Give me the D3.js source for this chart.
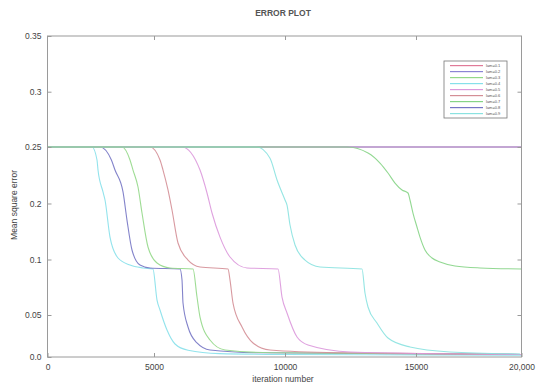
<!DOCTYPE html>
<html><head><meta charset="utf-8">
<script src="https://cdn.jsdelivr.net/npm/d3@7"></script>
<style>
html,body{margin:0;padding:0;background:#fff;}
text{font-family:"Liberation Sans",Arial,sans-serif;}
</style></head>
<body><svg id="c" width="536" height="385"></svg>
<script>
// ---- data ----
const xTicks = [0, 5000, 10000, 15000, 20000];
const xTickLabels = ["0", "5000", "10000", "15000", "20,000"];
const yTicks = [0, 0.05, 0.1, 0.2, 0.25, 0.3, 0.35];
const yTickLabels = ["0.0", "0.05", "0.1", "0.2", "0.25", "0.3", "0.35"];
const seriesNames = ["lam=0.1","lam=0.2","lam=0.3","lam=0.4","lam=0.5","lam=0.6","lam=0.7","lam=0.8","lam=0.9"];
const seriesColors = ["#e07a98","#8c84d4","#94d888","#86e0ea","#dc98dc","#d48e96","#86d486","#7676c4","#8ae2e0"];

const s1 = [[0,0.25],[20000,0.25]];
const s2 = [[0,0.25],[20000,0.25]];
const s3 = [[0,0.25],[3498,0.25],[3873,0.2385],[4014,0.2296],[4249,0.2146],[4437,0.183],[4718,0.1223],[5115,0.0969],[5611,0.0924],[6489,0.0915],[6641,0.0662],[6756,0.0476],[7137,0.0202],[7710,0.0083],[9500,0.005],[20000,0.003]];
const s4 = [[0,0.25],[2089,0.25],[2324,0.2385],[2371,0.2296],[2606,0.2102],[2700,0.2031],[2934,0.140],[3310,0.1027],[3873,0.095],[4484,0.0924],[4950,0.0915],[5115,0.0635],[5229,0.0545],[5496,0.0321],[5802,0.0155],[6300,0.008],[7500,0.004],[10000,0.003],[20000,0.002]];
const s5 = [[0,0.25],[6069,0.25],[6756,0.2296],[7023,0.2093],[7214,0.183],[7519,0.140],[7901,0.1045],[8550,0.0924],[9733,0.0915],[9885,0.0662],[10076,0.0518],[10458,0.0238],[10878,0.0143],[12500,0.006],[20000,0.003]];
const s6 = [[0,0.25],[4812,0.25],[5229,0.2385],[5344,0.2296],[5534,0.212],[5687,0.1884],[5916,0.1295],[6298,0.0995],[6756,0.0933],[7824,0.0915],[7901,0.0815],[8015,0.0608],[8359,0.0357],[8779,0.0167],[9427,0.0083],[12000,0.005],[20000,0.003]];
const s7 = [[0,0.25],[12366,0.25],[13168,0.2447],[13626,0.2358],[13931,0.227],[14198,0.2181],[14466,0.212],[14695,0.2093],[14771,0.2031],[14885,0.183],[15047,0.158],[15190,0.140],[15427,0.117],[15759,0.1027],[16138,0.0978],[16849,0.0942],[18034,0.0924],[20000,0.0915]];
const s8 = [[0,0.25],[2465,0.25],[3000,0.2385],[3169,0.2296],[3545,0.2102],[3733,0.17],[3967,0.117],[4343,0.095],[4812,0.0924],[5992,0.0915],[6069,0.0815],[6107,0.0608],[6298,0.0357],[6641,0.0167],[7137,0.0083],[9000,0.005],[20000,0.003]];
const s9 = [[0,0.25],[8931,0.25],[9427,0.24],[9695,0.2208],[10000,0.2031],[10076,0.1973],[10191,0.1616],[10382,0.1259],[10763,0.0995],[11336,0.0933],[12939,0.0915],[13053,0.0698],[13168,0.0572],[13511,0.0405],[13931,0.0226],[14771,0.0119],[16612,0.006],[19929,0.0036]];
const allSeries = [s1,s2,s3,s4,s5,s6,s7,s8,s9];

// ---- layout ----
const L = 47.5, R = 521.5, T = 36, B = 357;
const W = R - L, H = B - T;
const xFrac = [0, 0.2247, 0.5011, 0.7774, 1];
const yFrac = [0, 0.1308, 0.3037, 0.4782, 0.6542, 0.8265, 1];

const x = d3.scaleLinear().domain(xTicks).range(xFrac.map(f => L + f*W));
const y = d3.scaleLinear().domain(yTicks).range(yFrac.map(f => B - f*H));

const svg = d3.select("#c");
const axisCol = "#9a9a9a", textCol = "#444";

// lines
const line = d3.line().x(d => x(d[0])).y(d => y(d[1])).curve(d3.curveMonotoneX);
const drawOrder = [0,1,3,7,2,5,4,8,6];
drawOrder.forEach(i => {
  svg.append("path").attr("d", line(allSeries[i])).attr("fill","none")
    .attr("stroke", seriesColors[i]).attr("stroke-width", 1.1).attr("stroke-opacity", 0.9);
});

// frame
svg.append("rect").attr("x",L).attr("y",T).attr("width",W).attr("height",H)
  .attr("fill","none").attr("stroke",axisCol).attr("stroke-width",1);

// axes
const fmtX = d => xTickLabels[xTicks.indexOf(d)];
const fmtY = d => yTickLabels[yTicks.indexOf(d)];
const xb = svg.append("g").attr("transform",`translate(0,${B})`)
  .call(d3.axisBottom(x).tickValues(xTicks).tickFormat(fmtX).tickSizeInner(-4).tickSizeOuter(0).tickPadding(7));
const xt = svg.append("g").attr("transform",`translate(0,${T})`)
  .call(d3.axisTop(x).tickValues(xTicks.slice(1,-1)).tickFormat("").tickSizeInner(-4).tickSizeOuter(0));
const yl = svg.append("g").attr("transform",`translate(${L},0)`)
  .call(d3.axisLeft(y).tickValues(yTicks).tickFormat(fmtY).tickSizeInner(-4).tickSizeOuter(0).tickPadding(6));
const yr = svg.append("g").attr("transform",`translate(${R},0)`)
  .call(d3.axisRight(y).tickValues(yTicks.slice(1,-1)).tickFormat("").tickSizeInner(-4).tickSizeOuter(0));
[xb,xt,yl,yr].forEach(g => {
  g.select(".domain").remove();
  g.selectAll("line").attr("stroke",axisCol);
  g.selectAll("text").attr("fill",textCol).style("font-size","8.5px").style("font-family","Liberation Sans, Arial, sans-serif");
});

// titles
svg.append("text").attr("x",283).attr("y",16).attr("text-anchor","middle")
  .attr("fill","#555").style("font-size","8.5px").style("font-weight","bold").text("ERROR PLOT");
svg.append("text").attr("x",283).attr("y",382).attr("text-anchor","middle")
  .attr("fill",textCol).style("font-size","8.5px").text("iteration number");
svg.append("text").attr("transform","translate(17,205) rotate(-90)").attr("text-anchor","middle")
  .attr("fill",textCol).style("font-size","8.5px").text("Mean square error");

// legend
const lg = svg.append("g");
lg.append("rect").attr("x",444).attr("y",61).attr("width",63).attr("height",57)
  .attr("fill","#fff").attr("stroke","#777").attr("stroke-width",0.8);
seriesNames.forEach((n,i) => {
  const yy = 65 + i*6;
  lg.append("rect").attr("x",450).attr("y",yy).attr("width",33).attr("height",1.2)
    .attr("fill",seriesColors[i]);
  lg.append("text").attr("x",486).attr("y",yy+2).attr("fill","#555")
    .style("font-size","4px").text(n);
});
</script></body></html>
